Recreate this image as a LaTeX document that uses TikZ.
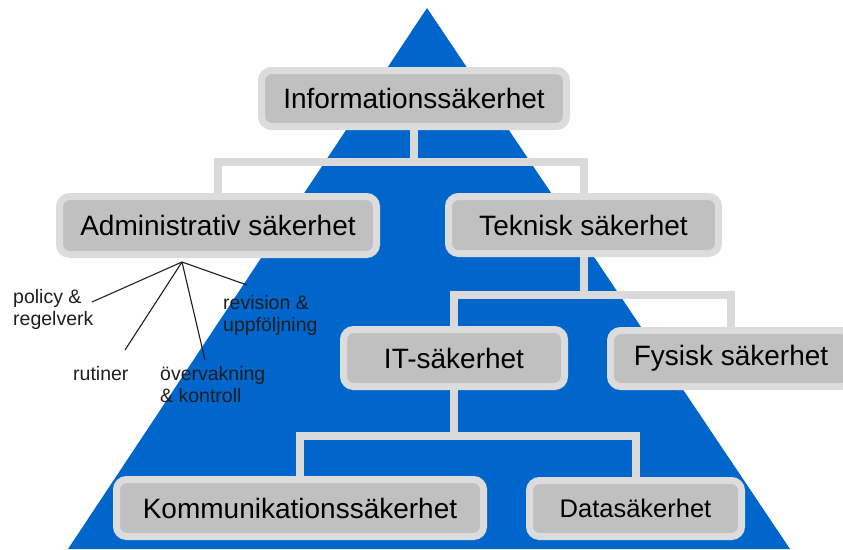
\documentclass[tikz,border=0pt]{standalone}
\usepackage{fontspec}
\setmainfont{Liberation Sans}
\usetikzlibrary{backgrounds}
\definecolor{pyrblue}{RGB}{0,102,204}
\definecolor{boxborder}{RGB}{220,220,220}
\definecolor{boxfill}{RGB}{192,192,192}
\definecolor{conngray}{RGB}{218,218,218}
\definecolor{labelink}{RGB}{30,30,30}
\begin{document}
\begin{tikzpicture}[x=1pt,y=-1pt,
  box/.style={draw=boxborder, line width=7pt, fill=boxfill, rounded corners=10pt,
    inner sep=0pt, font=\fontsize{28}{30}\selectfont, text=black},
  conn/.style={draw=conngray, line width=8pt},
  spoke/.style={draw=labelink, line width=1.1pt},
  lbl/.style={anchor=north west, inner sep=0pt, align=left, text=labelink,
    font=\fontsize{19.5}{22}\selectfont}]
\useasboundingbox (0,0) rectangle (843,549);
\clip (0,0) rectangle (843,549);
% junction coordinates
\coordinate (j1) at (417,162);
\coordinate (j2) at (583,295);
\coordinate (j3) at (456,436);
% boxes
\path
  node[box, minimum width=305pt, minimum height=56pt] (info) at (414,98.5) {Informationssäkerhet}
  node[box, minimum width=317pt, minimum height=58pt] (admin) at (218,225.5) {Administrativ säkerhet}
  node[box, minimum width=270pt, minimum height=57pt] (tek) at (583.5,225) {Teknisk säkerhet}
  node[box, minimum width=221pt, minimum height=57pt] (it) at (454,358) {IT-säkerhet}
  node[box, minimum width=241pt, minimum height=56pt] (fys) at (731,358.5) {Fysisk säkerhet}
  node[box, minimum width=367pt, minimum height=57pt] (komm) at (300,508) {Kommunikationssäkerhet}
  node[box, minimum width=212pt, minimum height=56pt, font=\fontsize{25.5}{27}\selectfont] (data) at (635.5,508.5) {Datasäkerhet};
% pyramid and connectors behind the boxes
\begin{scope}[on background layer]
  \fill[pyrblue] (427,8) -- (790,549) -- (68,549) -- cycle;
  \draw[conn] (info.center |- info.south) -- (info.center |- j1);
  \draw[conn] (admin.center) |- (j1) -| (tek.center);
  \draw[conn] (tek.center) -- (tek.center |- j2);
  \draw[conn] (it.center) |- (j2) -| (fys.center);
  \draw[conn] (it.center) -- (it.center |- j3);
  \draw[conn] (komm.center) |- (j3) -| (data.center);
\end{scope}
% spokes and labels
\coordinate (hub) at (182,262);
\node[lbl] (policy) at (13,289) {policy \&\\regelverk};
\node[lbl] (revision) at (223,295) {revision \&\\uppföljning};
\node[lbl] (rutiner) at (73,366) {rutiner};
\node[lbl] (overv) at (160,366) {övervakning\\\& kontroll};
\coordinate (pEnd) at (92,302);
\coordinate (rEnd) at (125,350);
\coordinate (oEnd) at (205,360);
\coordinate (vEnd) at (247,285);
\draw[spoke] (hub) -- (pEnd);
\draw[spoke] (hub) -- (rEnd);
\draw[spoke] (hub) -- (oEnd);
\draw[spoke] (hub) -- (vEnd);
\end{tikzpicture}
\end{document}
